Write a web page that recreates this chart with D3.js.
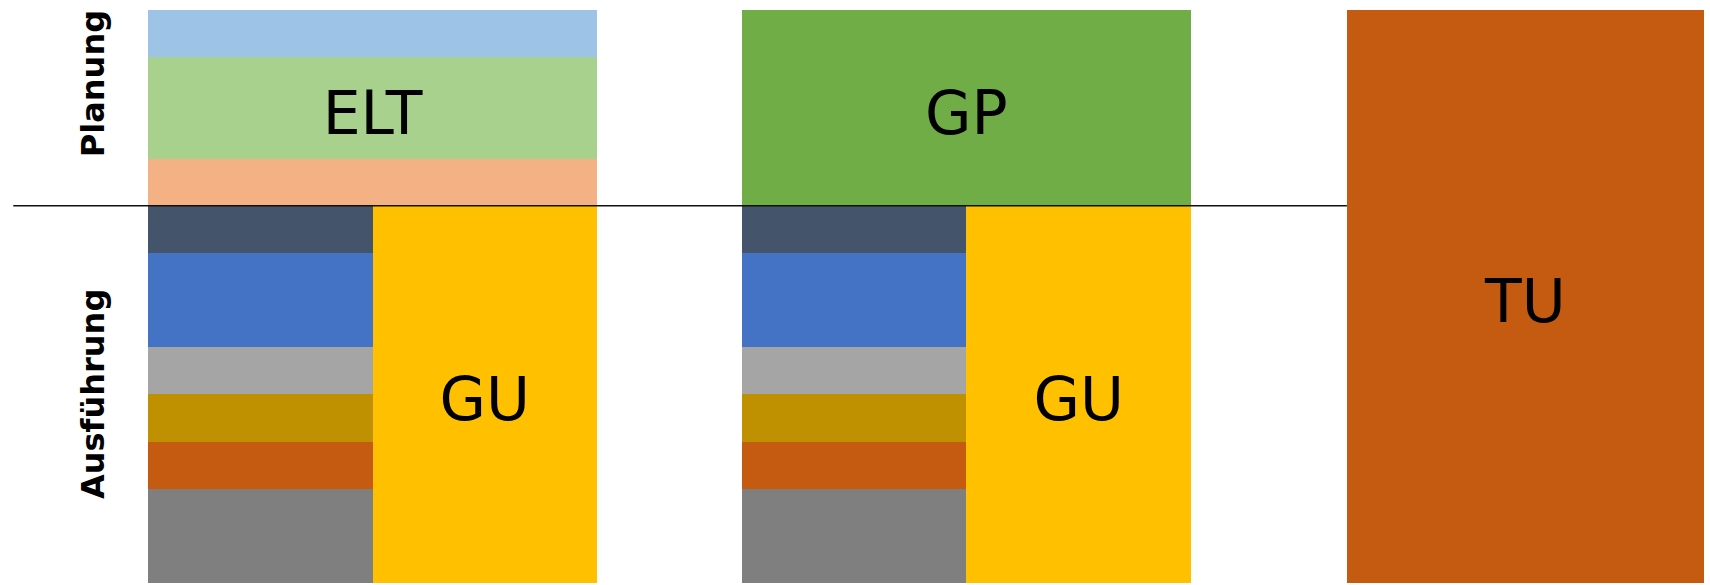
<!DOCTYPE html>
<html>
  <head>
    <script src="https://d3js.org/d3.v7.min.js"></script>
    <style>
      body { margin: 0; background: #fff; }
      svg { display: block; font-family: "DejaVu Sans", sans-serif; }
      rect { shape-rendering: crispEdges; }
    </style>
  </head>
  <body>
    <svg width="1710" height="585"></svg>
    <script>
    // columns of the diagram (x in half-column units)
    const columns = ["ELT + GU", "GP + GU", "TU"];
    const colStart = [0, 2.645, 5.34];
    const colSpan = [2, 2, 1.59];

    // planning layers, stacked upward from the divider (left column)
    const planParts = ["Planer 3", "ELT", "Planer 1"];
    const planValues = [1, 2.15, 1];

    // execution trades, stacked downward from the divider
    const execParts = ["Gewerk 1", "Gewerk 2", "Gewerk 3", "Gewerk 4", "Gewerk 5", "Gewerk 6"];
    const execValues = [1, 2, 1, 1, 1, 2];

    const phases = ["Planung", "Ausführung"];
    const planTotal = d3.sum(planValues);
    const execTotal = d3.sum(execValues);

    const planColors = ["#F4B183", "#A9D18E", "#9DC3E6"];
    const execColors = ["#44546A", "#4472C4", "#A5A5A5", "#BF9000", "#C55A11", "#7F7F7F"];

    const svg = d3.select("svg");

    const x = d3.scaleLinear().domain([0, 6.935]).range([148, 1705]);
    const y = d3.scaleLinear().domain([-execTotal, planTotal]).range([583, 10]);

    const g = svg.append("g");

    function block(x0, x1, y0, y1, color) {
      g.append("rect")
        .attr("x", x(x0))
        .attr("y", y(y1))
        .attr("width", x(x1) - x(x0))
        .attr("height", y(y0) - y(y1))
        .attr("fill", color);
    }

    function label(text, cx, cy) {
      g.append("text")
        .attr("x", x(cx))
        .attr("y", y(cy))
        .attr("dy", "0.43em")
        .attr("text-anchor", "middle")
        .style("font-size", "60px")
        .text(text);
    }

    // column 1: ELT planning stack + trades / GU
    const planEnds = d3.cumsum(planValues);
    planValues.forEach((v, i) => {
      block(colStart[0], colStart[0] + colSpan[0], planEnds[i] - v, planEnds[i], planColors[i]);
    });

    const execEnds = d3.cumsum(execValues);
    [0, 1].forEach(c => {
      execValues.forEach((v, i) => {
        block(colStart[c], colStart[c] + colSpan[c] / 2, -execEnds[i], -execEnds[i] + v, execColors[i]);
      });
      block(colStart[c] + colSpan[c] / 2, colStart[c] + colSpan[c], -execTotal, 0, "#FFC000");
      label("GU", colStart[c] + colSpan[c] * 0.75, -execTotal / 2);
    });

    label("ELT", colStart[0] + colSpan[0] / 2, planEnds[1] - planValues[1] / 2);

    // column 2: GP planning
    block(colStart[1], colStart[1] + colSpan[1], 0, planTotal, "#70AD47");
    label("GP", colStart[1] + colSpan[1] / 2, planTotal / 2);

    // column 3: TU for everything
    block(colStart[2], colStart[2] + colSpan[2], -execTotal, planTotal, "#C55A11");
    label("TU", colStart[2] + colSpan[2] / 2, (planTotal - execTotal) / 2);

    // divider between phases
    svg.append("line")
      .attr("x1", x(-0.6))
      .attr("x2", x(colStart[2]))
      .attr("y1", y(0))
      .attr("y2", y(0))
      .attr("stroke", "#111")
      .attr("stroke-width", 1.5);

    // phase labels
    const phasePos = [2.59, -3.99];
    phases.forEach((p, i) => {
      svg.append("text")
        .attr("transform", `translate(104,${y(phasePos[i])}) rotate(-90)`)
        .attr("text-anchor", "middle")
        .style("font-size", "32px")
        .style("font-weight", "bold")
        .text(p);
    });
    </script>
  </body>
</html>
